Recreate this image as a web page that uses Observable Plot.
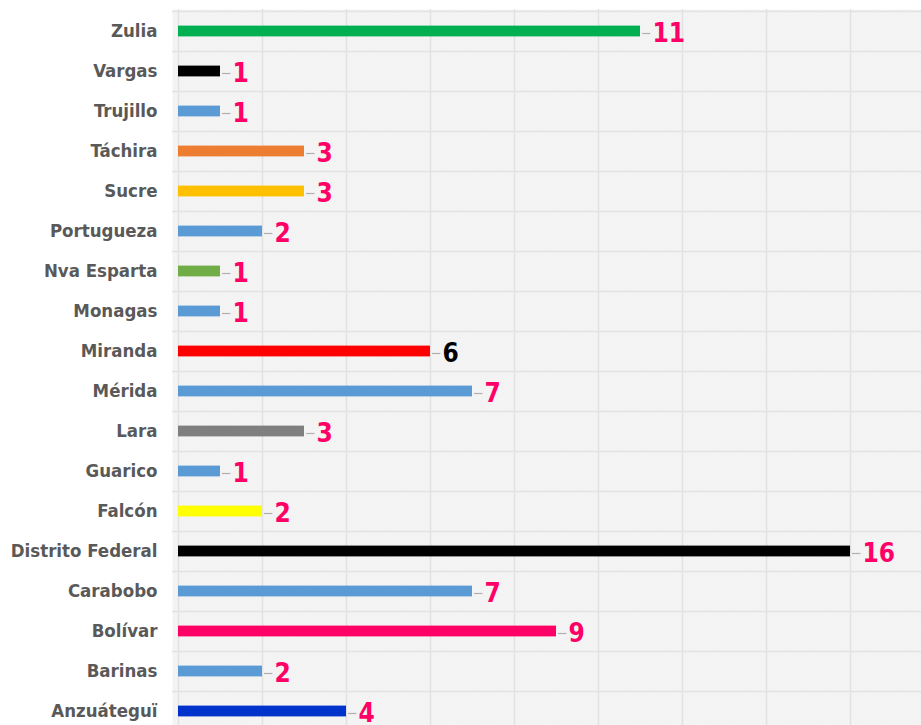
<!DOCTYPE html>
<html>
<head>
<meta charset="utf-8">
<script src="https://cdn.jsdelivr.net/npm/d3@7"></script>
<script src="https://cdn.jsdelivr.net/npm/@observablehq/plot@0.6"></script>
<style>
  html, body { margin: 0; padding: 0; background: #fff; }
  #chart svg { display: block; }
</style>
</head>
<body>
<div id="chart"></div>
<script>
const estados = ["Zulia", "Vargas", "Trujillo", "Táchira", "Sucre", "Portugueza", "Nva Esparta", "Monagas", "Miranda", "Mérida", "Lara", "Guarico", "Falcón", "Distrito Federal", "Carabobo", "Bolívar", "Barinas", "Anzuáteguï"];
const valores = [11, 1, 1, 3, 3, 2, 1, 1, 6, 7, 3, 1, 2, 16, 7, 9, 2, 4];
const colores = ["#00b050", "#000000", "#5b9bd5", "#ed7d31", "#ffc000", "#5b9bd5", "#70ad47", "#5b9bd5", "#ff0000", "#5b9bd5", "#7f7f7f", "#5b9bd5", "#ffff00", "#000000", "#5b9bd5", "#ff0066", "#5b9bd5", "#0033cc"];
const colorEtiqueta = ["#ff0066", "#ff0066", "#ff0066", "#ff0066", "#ff0066", "#ff0066", "#ff0066", "#ff0066", "#000000", "#ff0066", "#ff0066", "#ff0066", "#ff0066", "#ff0066", "#ff0066", "#ff0066", "#ff0066", "#ff0066"];
const ticksX = [0, 2, 4, 6, 8, 10, 12, 14, 16, 18];

const data = estados.map((e, i) => ({estado: e, valor: valores[i], color: colores[i], lab: colorEtiqueta[i]}));

const font = "'Liberation Sans Narrow', 'DejaVu Sans Condensed', sans-serif";

const chart = Plot.plot({
  width: 921,
  height: 725,
  marginLeft: 172,
  marginRight: 0,
  marginTop: 9,
  marginBottom: 0,
  style: {fontFamily: font, background: "#fff"},
  x: {domain: [-0.143, 17.69], axis: null},
  y: {domain: estados, range: [9, 733], padding: 0, axis: null},
  marks: [
    Plot.frame({fill: "url(#hatch)", stroke: "none"}),
    Plot.ruleX(ticksX, {stroke: "#e2e2e2", strokeWidth: 1.5}),
    Plot.ruleY(estados, {y: d => d, dy: -20.1, stroke: "#e2e2e2", strokeWidth: 1.5}),
    Plot.barX(data, {y: "estado", x: "valor", fill: "color", insetTop: 14.6, insetBottom: 14.6}),
    Plot.ruleY(data, {y: "estado", x1: d => d.valor, x2: d => d.valor + 0.2, dx: 2, dy: 2, stroke: "#b0b0b0", strokeWidth: 1.2}),
    Plot.axisY({tickSize: 0, tickPadding: 15, fontSize: 18.5, fontWeight: "bold", fill: "#595959", label: null}),
    Plot.text(data, {y: "estado", x: "valor", text: d => String(d.valor), dx: 12, dy: 2, textAnchor: "start", fill: "lab", fontSize: 26, fontWeight: "bold"})
  ]
});

// hatch pattern for the plot background
const ns = "http://www.w3.org/2000/svg";
const defs = document.createElementNS(ns, "defs");
defs.innerHTML = `<pattern id="hatch" width="2.5" height="2.5" patternUnits="userSpaceOnUse" patternTransform="rotate(45)">
  <rect width="2.5" height="2.5" fill="#f5f5f5"></rect>
  <line x1="0" y1="0" x2="0" y2="2.5" stroke="#ededed" stroke-width="1"></line>
</pattern>`;
chart.insertBefore(defs, chart.firstChild);
document.getElementById("chart").appendChild(chart);
</script>
</body>
</html>
